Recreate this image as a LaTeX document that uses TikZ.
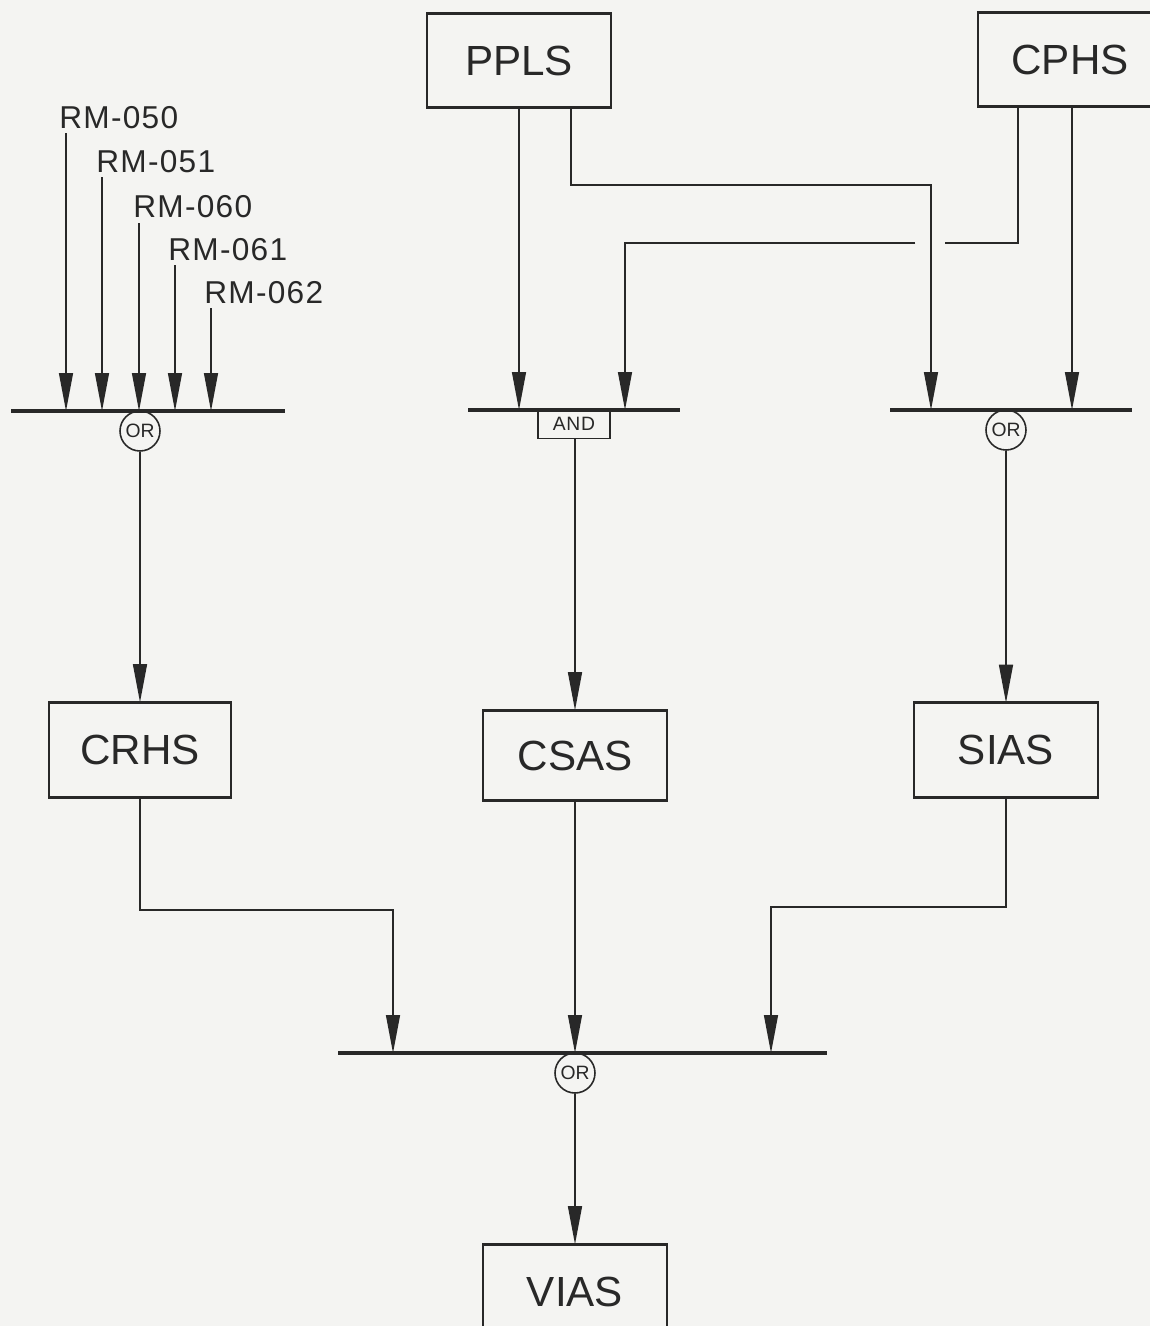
\documentclass[tikz,border=0pt]{standalone}
\usepackage{fontspec}
\setmainfont{Liberation Sans}
\newfontfamily\lblfont[LetterSpace=4]{Liberation Sans}
\usetikzlibrary{arrows.meta}
\definecolor{ink}{RGB}{40,40,40}
\definecolor{bgcol}{RGB}{244,244,242}
\begin{document}
\begin{tikzpicture}[x=0.02cm,y=-0.02cm,
  box/.style={draw=ink, line width=0.9pt, minimum width=3.68cm, minimum height=1.86cm, inner sep=0pt, text=ink, font=\fontsize{24}{30}\selectfont},
  hedge/.style={draw=ink, line width=1.8pt},
  conn/.style={draw=ink, line width=0.8pt},
  hconn/.style={draw=ink, line width=1.6pt},
  arr/.style={conn, -{Triangle[length=0.76cm,width=0.28cm]}},
  bar/.style={draw=ink, line width=2pt},
  orgate/.style={circle, draw=ink, line width=0.9pt, minimum size=0.8cm, inner sep=0pt, text=ink, font=\fontsize{11}{13}\selectfont},
  rmlbl/.style={anchor=base west, inner sep=0pt, text=ink, font=\lblfont\fontsize{18}{22}\selectfont}]
\path[use as bounding box, clip] (0,0) rectangle (1150,1326);
\fill[bgcol] (0,0) rectangle (1150,1326);

% boxes
\node[box] (ppls) at (519,60.5) {PPLS};
\node[box] (cphs) at (1070,59.5) {CPHS};
\node[box, minimum width=3.64cm, minimum height=1.88cm] (crhs) at (140,750) {CRHS};
\node[box, minimum height=1.78cm] (csas) at (575,755.5) {CSAS};
\node[box] (sias) at (1006,750) {SIAS};
\node[box] (vias) at (575,1291.5) {VIAS};
\foreach \b in {ppls,cphs,crhs,csas,sias,vias}
  \draw[hedge] (\b.north west) -- (\b.north east) (\b.south west) -- (\b.south east);

% RM labels
\node[rmlbl] (rm050) at (59,128) {RM-050};
\node[rmlbl] (rm051) at (96,172) {RM-051};
\node[rmlbl] (rm060) at (133,217) {RM-060};
\node[rmlbl] (rm061) at (168,260) {RM-061};
\node[rmlbl] (rm062) at (204,303) {RM-062};

% gates
\coordinate (barL) at (140,411);
\draw[bar] (11,411) -- (285,411);
\node[orgate] (orL) at (140,431) {OR};

\coordinate (barA) at (575,410);
\draw[bar] (468,410) -- (680,410);
\node[inner sep=0pt, minimum width=1.42cm, minimum height=0.56cm, text=ink, font=\lblfont\fontsize{11}{13}\selectfont] (andg) at (574,424) {AND};
\draw[conn] (andg.north west) -- (andg.south west) -- (andg.south east) -- (andg.north east);

\coordinate (barR) at (1006,410);
\draw[bar] (890,410) -- (1132,410);
\node[orgate] (orR) at (1006,430) {OR};

\coordinate (barB) at (575,1053);
\draw[bar] (338,1053) -- (827,1053);
\node[orgate] (orB) at (575,1073) {OR};

% RM inputs
\coordinate (s050) at (66,133);
\coordinate (s051) at (102,177);
\coordinate (s060) at (139,223);
\coordinate (s061) at (175,265);
\coordinate (s062) at (211,308);
\foreach \s in {s050,s051,s060,s061,s062}
  \draw[arr] (\s) -- (\s |- barL);

% PPLS outputs
\draw[arr] (ppls.south) -- (ppls.south |- barA);
\coordinate (p2) at (571,107.5);
\coordinate (k1) at (931,185);
\draw[arr] (p2) |- (k1) -- (k1 |- barR);
\draw[hconn] (p2 |- k1) -- (k1);

% CPHS outputs
\coordinate (c1) at (1018,106);
\coordinate (k2) at (1018,243);
\coordinate (gapR) at (945,243);
\coordinate (gapL) at (915,243);
\coordinate (k3) at (625,243);
\draw[conn] (c1) -- (k2) -- (gapR);
\draw[hconn] (k2) -- (gapR);
\draw[arr] (gapL) -- (k3) -- (k3 |- barA);
\draw[hconn] (gapL) -- (k3);
\coordinate (c2) at (1072,106);
\draw[arr] (c2) -- (c2 |- barR);

% gate outputs
\draw[arr] (orL.south) -- (crhs.north);
\draw[arr] (andg.south -| csas.north) -- (csas.north);
\draw[arr] (orR.south) -- (sias.north);

% into final OR
\coordinate (b1) at (393,910);
\draw[arr] (crhs.south) |- (b1) -- (b1 |- barB);
\draw[hconn] (crhs.south |- b1) -- (b1);
\draw[arr] (csas.south) -- (csas.south |- barB);
\coordinate (b2) at (771,907);
\draw[arr] (sias.south) |- (b2) -- (b2 |- barB);
\draw[hconn] (sias.south |- b2) -- (b2);
\draw[arr] (orB.south) -- (vias.north);
\end{tikzpicture}
\end{document}
